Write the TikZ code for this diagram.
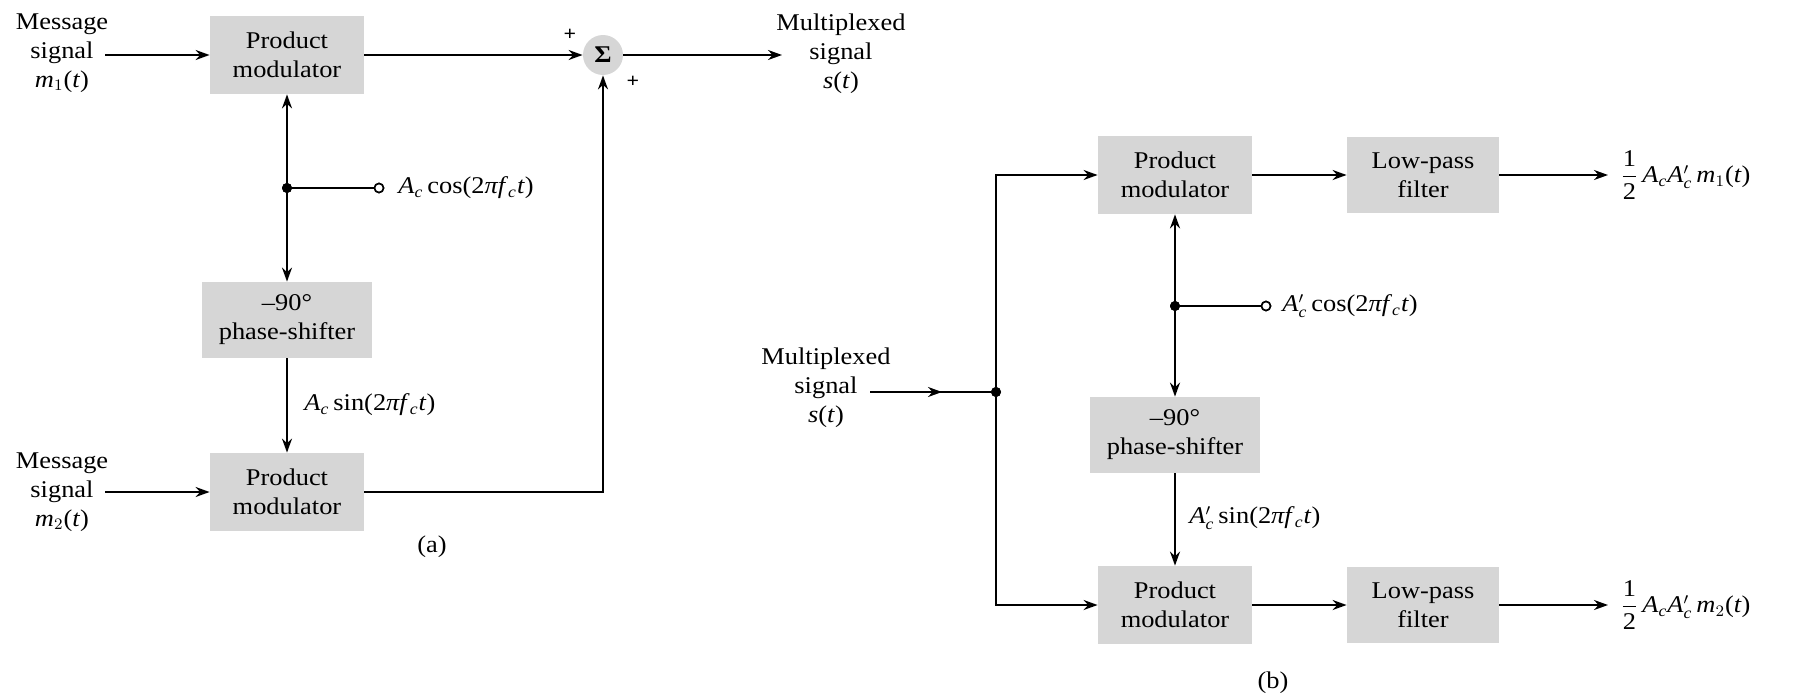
\documentclass[tikz,border=0pt]{standalone}
\usepackage{fontspec}
\usepackage{amsmath}
\setmainfont{Liberation Serif}[FakeStretch=1.1]
\usetikzlibrary{arrows.meta}
\definecolor{boxgray}{HTML}{D6D6D6}
\begin{document}
\begin{tikzpicture}[x=0.5pt,y=-0.5pt,
  every node/.style={font=\fontsize{12}{14.5}\selectfont},
  blk/.style={fill=boxgray,draw=none,align=center,inner sep=0pt,minimum height=39pt},
  pm/.style={blk,minimum width=77pt},
  ps/.style={blk,minimum width=85pt,minimum height=38pt},
  lpf/.style={blk,minimum width=76pt,minimum height=38pt},
  sumc/.style={circle,fill=boxgray,draw=none,minimum size=20pt,inner sep=0pt},
  txt/.style={align=center,inner sep=0pt},
  lab/.style={anchor=west,inner sep=0pt},
  dot/.style={circle,fill=black,draw=none,minimum size=5pt,inner sep=0pt},
  oc/.style={circle,fill=white,draw=black,line width=0.8pt,minimum size=4.5pt,inner sep=0pt},
  arr/.style={-{Stealth[length=7pt,width=5pt]}},
  wire/.style={line width=1pt},
  plus/.style={font=\fontsize{10}{12}\selectfont\bfseries,inner sep=0pt}
]
\useasboundingbox (0,0) rectangle (1794,696);

% ---------------- (a) ----------------
\node[pm] (pm1) at (287,55) {Product\\modulator};
\node[sumc] (sig) at (603,55) {\textbf{Σ}};
\node[ps] (ps1) at (287,320) {–90°\\phase-shifter};
\node[pm] (pm2) at (287,492) {Product\\modulator};

\node[txt] (m1lab) at (62,53) {Message\\signal\\\textit{m}$_{1}$(\textit{t})};
\coordinate (in1) at (105,55);
\node[txt] (m2lab) at (62,492) {Message\\signal\\\textit{m}$_{2}$(\textit{t})};
\coordinate (in2) at (105,492);

\node[txt] (slab) at (841,54) {Multiplexed\\signal\\\textit{s}(\textit{t})};
\coordinate (out) at (782,55);

\node[dot] (j1) at (287,188) {};
\node[oc] (c1) at (379,188) {};
\node[lab] (coslab) at (398,188) {\textit{A}$_{\textit{c}}$\,cos(2\textit{πf}$_{\textit{c}}$\textit{t})};
\node[lab] (sinlab) at (304,405) {\textit{A}$_{\textit{c}}$\,sin(2\textit{πf}$_{\textit{c}}$\textit{t})};

\node[plus] (p1) at (570,35) {+};
\node[plus] (p2) at (633,82) {+};

\node[txt] (capa) at (432,547) {(a)};

\draw[wire,arr] (in1) -- (pm1.west);
\draw[wire,arr] (pm1.east) -- (sig.west);
\draw[wire,arr] (sig.east) -- (out);
\draw[wire,arr] (j1) -- (pm1.south);
\draw[wire,arr] (j1) -- (ps1.north);
\draw[wire] (j1) -- (c1);
\draw[wire,arr] (ps1.south) -- (pm2.north);
\draw[wire,arr] (in2) -- (pm2.west);
\draw[wire,arr] (pm2.east) -| (sig.south);
\node[dot] at (j1) {};
\node[oc] at (c1) {};

% ---------------- (b) ----------------
\node[txt] (slab2) at (826,388) {Multiplexed\\signal\\\textit{s}(\textit{t})};
\coordinate (in3) at (870,392);
\coordinate (mid3) at (942,392);
\node[dot] (j2) at (996,392) {};

\node[pm] (pm3) at (1175,175) {Product\\modulator};
\node[lpf] (lp1) at (1423,175) {Low-pass\\filter};
\coordinate (o1) at (1608,175);
\node[lab] (r1) at (1620,175) {$\dfrac{\text{1}}{\text{2}}$\,\textit{A}$_{\textit{c}}$\textit{A}$'_{\textit{c}}$\,\textit{m}$_{1}$(\textit{t})};

\node[dot] (j3) at (1175,306) {};
\node[oc] (c2) at (1266,306) {};
\node[lab] (coslab2) at (1282,306) {\textit{A}$'_{\textit{c}}$\,cos(2\textit{πf}$_{\textit{c}}$\textit{t})};

\node[ps] (ps2) at (1175,435) {–90°\\phase-shifter};
\node[lab] (sinlab2) at (1189,518) {\textit{A}$'_{\textit{c}}$\,sin(2\textit{πf}$_{\textit{c}}$\textit{t})};

\node[pm] (pm4) at (1175,605) {Product\\modulator};
\node[lpf] (lp2) at (1423,605) {Low-pass\\filter};
\coordinate (o2) at (1608,605);
\node[lab] (r2) at (1620,605) {$\dfrac{\text{1}}{\text{2}}$\,\textit{A}$_{\textit{c}}$\textit{A}$'_{\textit{c}}$\,\textit{m}$_{2}$(\textit{t})};

\node[txt] (capb) at (1273,683) {(b)};

\draw[wire] (in3) -- (j2);
\draw[wire,arr] (in3) -- (mid3);
\draw[wire,arr] (j2) |- (pm3.west);
\draw[wire,arr] (j2) |- (pm4.west);
\draw[wire,arr] (pm3.east) -- (lp1.west);
\draw[wire,arr] (lp1.east) -- (o1);
\draw[wire,arr] (j3) -- (pm3.south);
\draw[wire,arr] (j3) -- (ps2.north);
\draw[wire] (j3) -- (c2);
\draw[wire,arr] (ps2.south) -- (pm4.north);
\draw[wire,arr] (pm4.east) -- (lp2.west);
\draw[wire,arr] (lp2.east) -- (o2);
\node[dot] at (j2) {};
\node[dot] at (j3) {};
\node[oc] at (c2) {};
\end{tikzpicture}
\end{document}
